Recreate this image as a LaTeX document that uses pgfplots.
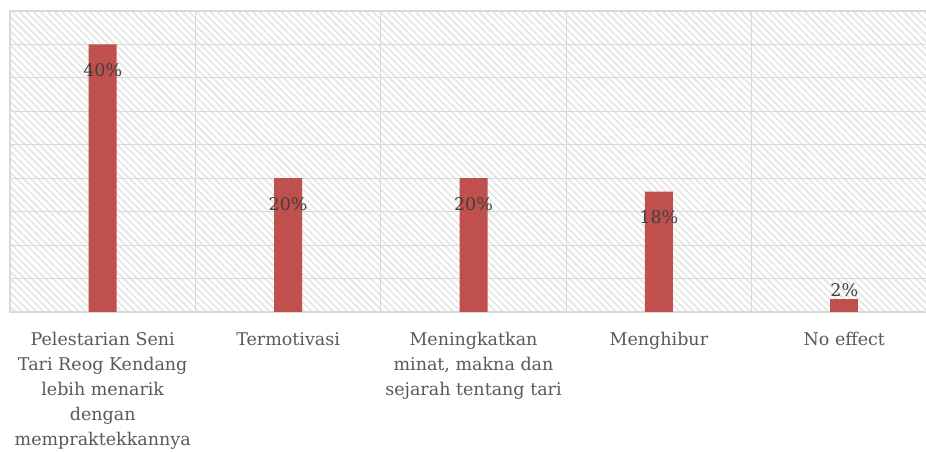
\documentclass[border=0pt]{standalone}
\usepackage{pgfplots}
\pgfplotsset{compat=1.18}
\usetikzlibrary{patterns.meta}
\usepackage{fontspec}
\setmainfont{DejaVu Serif}
\definecolor{barred}{HTML}{C0504D}
\definecolor{gridc}{HTML}{D9D9D9}
\definecolor{txt}{HTML}{595959}
\definecolor{lbl}{HTML}{404040}
\definecolor{hatch}{HTML}{E6E6E6}
\begin{document}
\begin{tikzpicture}
\begin{axis}[
  at={(10bp,140bp)}, anchor=south west,
  scale only axis, width=927bp, height=301bp,
  xmin=-0.5, xmax=4.5, ymin=0, ymax=45,
  ytick={0,5,...,45}, yticklabel={\relax}, ymajorgrids,
  major grid style={gridc, line width=1.2bp},
  xtick={0,...,4},
  xticklabels={{Pelestarian Seni\\Tari Reog Kendang\\lebih menarik\\dengan\\mempraktekkannya},
    Termotivasi, {Meningkatkan\\minat, makna dan\\sejarah tentang tari}, Menghibur, No effect},
  minor xtick={-0.5,0.5,...,4.5}, xminorgrids,
  minor grid style={gridc, line width=1.2bp},
  major tick length=0pt, minor tick length=0pt,
  axis line style={gridc, line width=1.2bp},
  axis background/.style={pattern={Lines[angle=-45,distance=5bp,line width=1.8bp]}, pattern color=hatch},
  xticklabel style={align=center, font=\fontsize{17.5bp}{25bp}\selectfont, text=txt, yshift=-17bp},
  point meta=explicit symbolic,
  every node near coord/.append style={font=\fontsize{17.5bp}{20bp}\selectfont, text=lbl},
]
\addplot[ybar, bar shift=0pt, bar width=28bp, fill=barred, draw=none,
  nodes near coords, every node near coord/.append style={yshift=-36bp}]
  coordinates {(0,40) [40\%] (1,20) [20\%] (2,20) [20\%] (3,18) [18\%]};
\addplot[ybar, bar shift=0pt, bar width=28bp, fill=barred, draw=none,
  nodes near coords, every node near coord/.append style={yshift=-2bp}]
  coordinates {(4,2) [2\%]};
\end{axis}
\pgfresetboundingbox
\useasboundingbox (0bp,0bp) rectangle (926bp,452bp);
\end{tikzpicture}
\end{document}
